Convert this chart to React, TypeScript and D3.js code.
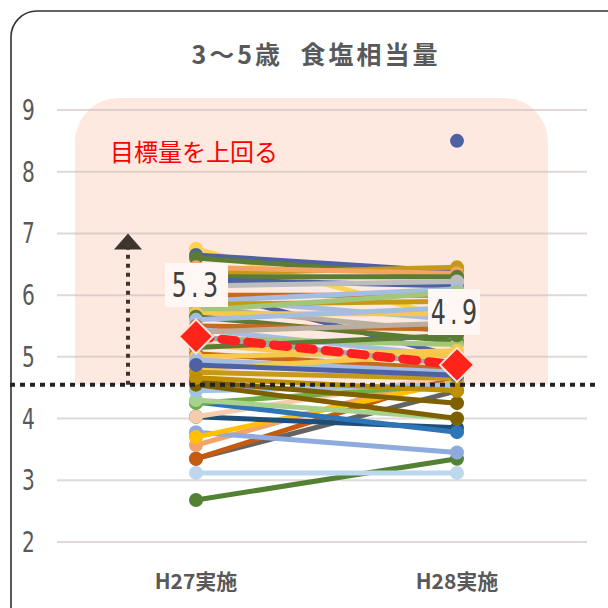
import React from "react"
import * as d3 from "d3"

// 3～5歳 食塩相当量 (g)
const categories = ["H27実施", "H28実施"]
const yTicks = [2, 3, 4, 5, 6, 7, 8, 9]

const h27 = [
  2.68, 3.12, 3.35, 3.35, 3.57, 3.78, 3.7, 4.03, 4.03, 4.27, 4.25, 4.3, 4.45, 4.6, 4.55,
  6.75, 6.65, 6.6, 6.35, 6.45, 6.3, 6.25, 6.15, 6.1, 6.0, 5.95, 5.9, 5.85, 5.8, 5.75,
  5.7, 5.65, 5.6, 5.5, 5.45, 5.4, 5.3, 5.2, 5.15, 5.05, 5.0, 4.95, 4.8, 4.75, 4.66, 4.87,
]
const h28 = [
  3.35, 3.12, 4.45, 4.7, 4.75, 3.45, 4.6, 3.85, 4.7, 3.78, 4.55, 4.0, 4.55, 4.25, 4.0,
  5.6, 6.38, 6.3, 6.45, 6.35, 6.3, 6.15, 6.22, 5.0, 6.0, 5.6, 6.1, 5.9, 5.4, 6.05,
  5.7, 5.25, 5.8, 5.45, 5.0, 5.55, 5.2, 4.9, 5.35, 4.8, 5.1, 4.75, 5.05, 4.65, 4.45, 4.7,
]
const colors = [
  "#548235", "#bdd7ee", "#636363", "#c55a11", "#f4a26b", "#8faadc", "#ffc000", "#1f4e79",
  "#f8cbad", "#2e75b6", "#70ad47", "#a9d18e", "#9dc3e6", "#7f6000", "#7f6000",
  "#ffd24f", "#4e62a3", "#5b7c35", "#c49a16", "#f4a460", "#5b7c35", "#4e62a3", "#bdbdbd",
  "#4e62a3", "#c86a1e", "#a4bde0", "#a4bde0", "#c49a16", "#b9aea0", "#a3c77a",
  "#f6c94b", "#5b7c35", "#a4bde0", "#c86a1e", "#a4bde0", "#b9aea0", "#a3c77a", "#f6c94b",
  "#5b7c35", "#c86a1e", "#f6c94b", "#a4bde0", "#f6c94b", "#c49a16", "#bf9000", "#4e62a3",
]
const outlierH28 = 8.5
const meanValues = [5.33, 4.87]
const meanLabels = ["5.3", "4.9"]
const targetLine = 4.55
const arrowTop = 7.0
const targetText = "目標量を上回る"
const title = "3～5歳  食塩相当量"

const jp = "'Noto Sans CJK JP', sans-serif"
const num = "'DejaVu Sans', sans-serif"

// narrow digits, like the original's condensed font
function Narrow(props: { x: number; y: number; size: number; anchor?: string; fill: string; spacing?: number; children: string }) {
  const k = 0.72
  return (
    <g transform={`translate(${props.x},${props.y}) scale(${k},1)`}>
      <text x={0} y={0} fontSize={props.size} fill={props.fill} fontFamily={num}
        textAnchor={props.anchor || "start"} letterSpacing={props.spacing || 0}>{props.children}</text>
    </g>
  )
}

export default function App() {
  const x = d3.scalePoint<string>().domain(categories).range([196, 457])
  const y = d3.scaleLinear().domain([2, 9]).range([542, 110])
  const line = d3.line<[string, number]>().x(d => x(d[0])!).y(d => y(d[1]))

  const series = h27.map((v, i) => ({
    pts: [[categories[0], v], [categories[1], h28[i]]] as [string, number][],
    color: colors[i % colors.length],
  }))
  const meanPts = categories.map((c, i) => [c, meanValues[i]] as [string, number])
  const yT = y(targetLine)
  const gray = "#595959"

  const d = 17
  const diamond = (cx: number, cy: number) => `M${cx},${cy - d}L${cx + d},${cy}L${cx},${cy + d}L${cx - d},${cy}Z`

  return (
    <svg width={608} height={608} style={{ position: "absolute", left: 0, top: 0, background: "#fff" }}>
      <defs>
        <clipPath id="pinkclip">
          <rect x={0} y={0} width={608} height={yT} />
        </clipPath>
      </defs>
      <rect x={11} y={11} width={640} height={640} rx={26} fill="#fff" stroke="#333" strokeWidth={1.6} />
      <text x={316} y={64} textAnchor="middle" fontSize={25} fontWeight="bold" fill={gray}
        fontFamily={jp} letterSpacing={3} style={{ whiteSpace: "pre" }}>{title}</text>

      <rect x={75} y={98} width={473} height={360} rx={44} fill="#fde9df" clipPath="url(#pinkclip)" />

      {yTicks.map(t => (
        <g key={t}>
          <line x1={57} x2={587} y1={y(t)} y2={y(t)} stroke="#c8c0bc" strokeOpacity={0.6} strokeWidth={2} />
          <Narrow x={22} y={y(t) + 10} size={28} fill={gray}>{String(t)}</Narrow>
        </g>
      ))}

      <text x={110} y={161} fontSize={24} fill="#ff0000" fontFamily={jp}>{targetText}</text>

      <line x1={128} x2={128} y1={yT} y2={y(arrowTop) + 14} stroke="#3f3530" strokeWidth={4} strokeDasharray="4 5" />
      <path d={`M128,${y(arrowTop)}L142,${y(arrowTop) + 16}L114,${y(arrowTop) + 16}Z`} fill="#3f3530" />

      {series.map((s, i) => (
        <g key={i}>
          <path d={line(s.pts)!} fill="none" stroke={s.color} strokeWidth={5} />
          {s.pts.map((p, j) => (
            <circle key={j} cx={x(p[0])} cy={y(p[1])} r={7} fill={s.color} />
          ))}
        </g>
      ))}
      <circle cx={x(categories[1])} cy={y(outlierH28)} r={7} fill="#4e62a3" />

      <line x1={10} x2={596} y1={yT} y2={yT} stroke="#222" strokeWidth={4} strokeDasharray="5 5" />

      <path d={line(meanPts)!} fill="none" stroke="#a5a5a5" strokeWidth={5} />
      <path d={line(meanPts)!} fill="none" stroke="#ff2020" strokeWidth={9} strokeDasharray="14 12" strokeLinecap="round" />
      {meanPts.map((p, i) => (
        <path key={i} d={diamond(x(p[0])!, y(p[1]))} fill="#ff2419" stroke="#fbe4da" strokeWidth={2} />
      ))}

      <rect x={165} y={263} width={63} height={44} fill="#fff7f3" />
      <Narrow x={197} y={297} size={33} anchor="middle" fill="#404040" spacing={6}>{meanLabels[0]}</Narrow>
      <rect x={428} y={289} width={52} height={46} fill="#fff7f3" />
      <Narrow x={456} y={324} size={33} anchor="middle" fill="#404040" spacing={6}>{meanLabels[1]}</Narrow>

      {categories.map(c => (
        <text key={c} x={x(c)} y={589} textAnchor="middle" fontSize={21} fontWeight="bold" fill={gray}
          fontFamily={jp}>{c}</text>
      ))}
    </svg>
  )
}
